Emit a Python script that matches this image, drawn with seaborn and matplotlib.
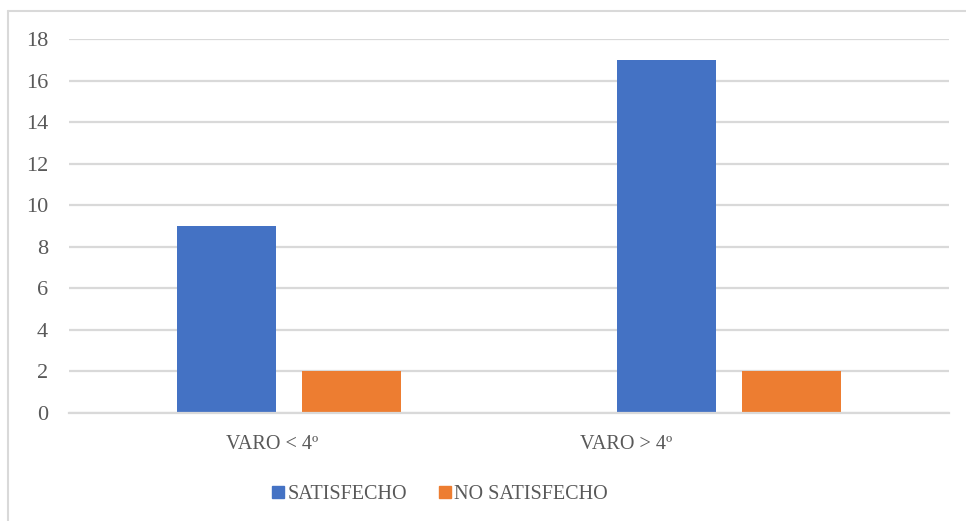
import matplotlib
matplotlib.use("Agg")
import matplotlib.pyplot as plt
from matplotlib.lines import Line2D
from matplotlib.transforms import ScaledTranslation
import seaborn as sns
import pandas as pd

# Data
categories = ["VARO < 4º", "VARO > 4º"]
series_names = ["SATISFECHO", "NO SATISFECHO"]
satisfecho = [9, 17]
no_satisfecho = [2, 2]
y_ticks = [0, 2, 4, 6, 8, 10, 12, 14, 16, 18]

colors = ["#4472C4", "#ED7D31"]
text_color = "#595959"
grid_color = "#D9D9D9"

df = pd.DataFrame({
    "grupo": categories * 2,
    "serie": [series_names[0]] * 2 + [series_names[1]] * 2,
    "valor": satisfecho + no_satisfecho,
})

sns.set_theme(style="white")
plt.rcParams["font.family"] = ["Liberation Serif", "DejaVu Serif"]

fig = plt.figure(figsize=(9.66, 5.21), dpi=100)
ax = fig.add_axes([69 / 966, 1 - 413 / 521, (949 - 69) / 966, (413 - 39) / 521])

sns.barplot(data=df, x="grupo", y="valor", hue="serie", order=categories,
            hue_order=series_names, palette=colors, width=0.57, gap=0.21,
            saturation=1, ax=ax, legend=False, edgecolor="none")

ax.set_xlim(-0.5, 1.5)
ax.set_ylim(0, 18)
ax.set_yticks(y_ticks)
ax.yaxis.grid(True, color=grid_color, linewidth=1.6)
ax.set_axisbelow(True)
for side in ["top", "right", "left"]:
    ax.spines[side].set_visible(False)
ax.spines["bottom"].set_color(grid_color)
ax.spines["bottom"].set_linewidth(1.6)
ax.set_xlabel("")
ax.set_ylabel("")
ax.tick_params(axis="y", length=0, pad=15, labelsize=16, labelcolor=text_color)
ax.tick_params(axis="x", length=0, pad=16, labelsize=14.5, labelcolor=text_color)

# category labels sit slightly left of the bar groups
shifts_px = [-17, -103]
for lab, dx in zip(ax.get_xticklabels(), shifts_px):
    lab.set_transform(lab.get_transform() + ScaledTranslation(dx / 100, 0, fig.dpi_scale_trans))

# legend
handles = [Line2D([], [], marker="s", linestyle="none", markersize=9,
                  markerfacecolor=c, markeredgecolor=c) for c in colors]
fig.legend(handles, series_names, loc="center", bbox_to_anchor=(439 / 966, 1 - 494 / 521),
           ncol=2, frameon=False, fontsize=14.5, labelcolor=text_color,
           handletextpad=0.05, columnspacing=1.5, handlelength=0.8)

# chart-area border
fig.add_artist(Line2D([7.5 / 966, 7.5 / 966], [0, 1 - 10.5 / 521], color=grid_color,
                      linewidth=1.5, transform=fig.transFigure))
fig.add_artist(Line2D([7.5 / 966, 1], [1 - 10.5 / 521, 1 - 10.5 / 521], color=grid_color,
                      linewidth=1.5, transform=fig.transFigure))

fig.savefig("out.png", dpi=100, facecolor="white")
